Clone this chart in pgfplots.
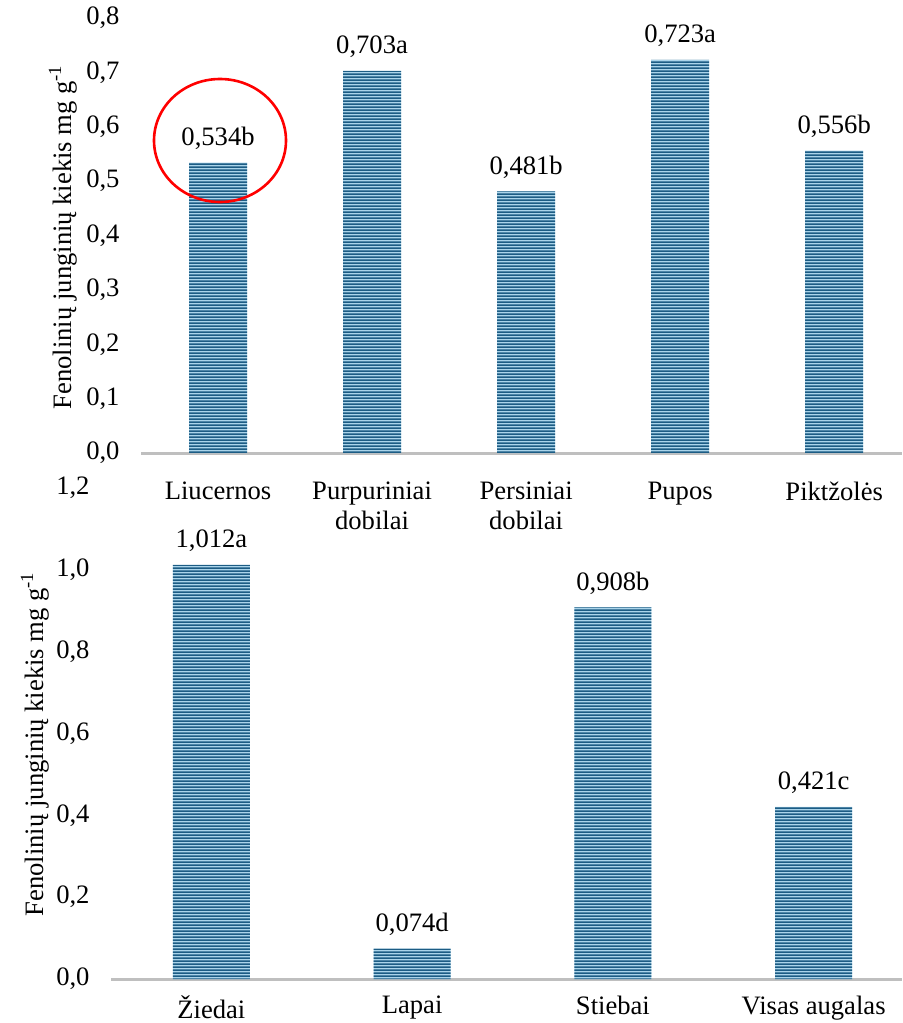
\documentclass[border=0pt]{standalone}
\usepackage{fontspec}
\setmainfont{Liberation Serif}
\usepackage{pgfplots}
\pgfplotsset{compat=1.18}
\usetikzlibrary{patterns}

\definecolor{barlight}{RGB}{170,212,234}
\definecolor{bardark}{RGB}{28,92,132}
\definecolor{axisgray}{RGB}{191,191,191}

% wide tile so no seams fall inside the bars
\pgfdeclarepatternformonly{hstripes}{\pgfpointorigin}{\pgfpoint{460pt}{1.7pt}}{\pgfpoint{460pt}{1.7pt}}{%
  \pgfpathrectangle{\pgfpointorigin}{\pgfpoint{460pt}{0.95pt}}\pgfusepath{fill}}

\newcommand{\chartfont}{\fontsize{13.3}{15}\selectfont}

\pgfplotsset{
  stripbars/.style={
    scale only axis,
    anchor=south west,
    clip=false,
    axis x line*=bottom,
    axis y line*=left,
    x axis line style={-, line width=1.5pt, color=axisgray},
    y axis line style={draw=none},
    major tick length=0pt,
    tick style={draw=none},
    ymin=0,
    xtick=data,
    font=\chartfont,
    ticklabel style={font=\chartfont},
    yticklabel style={xshift=-7.2pt,
      /pgf/number format/.cd, use comma, fixed, fixed zerofill, precision=1, assume math mode=true},
    nodes near coords,
    point meta=explicit symbolic,
    nodes near coords style={font=\chartfont, yshift=3pt},
  },
  stripfill/.style={ybar, fill=barlight, draw=none,
    postaction={pattern=hstripes, pattern color=bardark}},
}

\begin{document}
\begin{tikzpicture}
\path[use as bounding box] (0pt,0pt) rectangle (451pt,-511.5pt);

% augalu rusys
\begin{axis}[stripbars,
  at={(70.5pt,-226.5pt)},
  width=380.5pt, height=217.5pt,
  xmin=-0.5, xmax=4.44,
  ymax=0.8, ytick={0,0.1,...,0.8},
  bar width=29pt,
  xticklabel style={align=center, yshift=-11pt},
  xticklabels={Liucernos, Purpuriniai\\dobilai, Persiniai\\dobilai, Pupos, Piktžolės},
]
\addplot[stripfill] coordinates {
  (0,0.534) [0,534b]
  (1,0.703) [0,703a]
  (2,0.481) [0,481b]
  (3,0.723) [0,723a]
  (4,0.556) [0,556b]
};
\end{axis}

% augalo dalys
\begin{axis}[stripbars,
  at={(55.5pt,-489.5pt)},
  width=395.5pt, height=245.5pt,
  xmin=-0.5, xmax=3.44,
  ymax=1.2, ytick={0,0.2,...,1.2},
  bar width=38.5pt,
  xticklabel style={align=center, yshift=-5pt},
  xticklabels={Žiedai, Lapai, Stiebai, Visas augalas},
]
\addplot[stripfill] coordinates {
  (0,1.012) [1,012a]
  (1,0.074) [0,074d]
  (2,0.908) [0,908b]
  (3,0.421) [0,421c]
};
\end{axis}

\node[rotate=90, font=\chartfont] at (31.5pt,-118.5pt) {Fenolinių junginių kiekis mg g\textsuperscript{-1}};
\node[rotate=90, font=\chartfont] at (17.5pt,-372pt) {Fenolinių junginių kiekis mg g\textsuperscript{-1}};

\draw[red, line width=1.3pt] (110pt,-70.25pt) ellipse [x radius=33pt, y radius=30.75pt];
\end{tikzpicture}
\end{document}
